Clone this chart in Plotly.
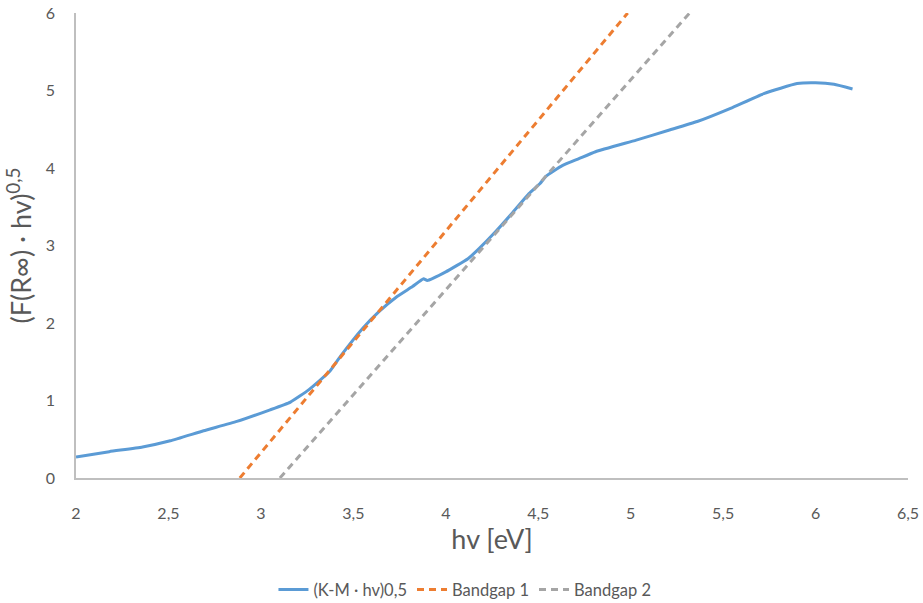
import plotly.graph_objects as go

# Blue curve: (K-M · hv)^0.5
km_x = [2.00, 2.18, 2.36, 2.51, 2.69, 2.87, 3.05, 3.16, 3.26, 3.37, 3.43, 3.55, 3.64, 3.73,
        3.82, 3.88, 3.90, 4.00, 4.12, 4.18, 4.27, 4.36, 4.45, 4.51, 4.54, 4.63, 4.72, 4.81,
        5.03, 5.21, 5.36, 5.54, 5.72, 5.90, 6.00, 6.10, 6.20]
km_y = [0.27, 0.34, 0.40, 0.48, 0.61, 0.73, 0.88, 0.98, 1.14, 1.37, 1.57, 1.93, 2.15, 2.33,
        2.47, 2.57, 2.55, 2.66, 2.83, 2.96, 3.18, 3.42, 3.67, 3.80, 3.89, 4.03, 4.12, 4.21,
        4.36, 4.49, 4.60, 4.77, 4.96, 5.09, 5.10, 5.08, 5.02]

# Tangent lines
bg1_x = [2.886, 4.984]
bg1_y = [0, 6]
bg2_x = [3.103, 5.319]
bg2_y = [0, 6]

x_ticks = [2, 2.5, 3, 3.5, 4, 4.5, 5, 5.5, 6, 6.5]
y_ticks = [0, 1, 2, 3, 4, 5, 6]

FONT = "Lato"
GREY = "#595959"

fig = go.Figure()
fig.add_trace(go.Scatter(x=km_x, y=km_y, mode="lines", name="(K-M · hv)0,5",
                         line=dict(color="#5B9BD5", width=3, shape="spline", smoothing=0.4)))
fig.add_trace(go.Scatter(x=bg1_x, y=bg1_y, mode="lines", name="Bandgap 1",
                         line=dict(color="#ED7D31", width=3, dash="7px,5px")))
fig.add_trace(go.Scatter(x=bg2_x, y=bg2_y, mode="lines", name="Bandgap 2",
                         line=dict(color="#A5A5A5", width=3, dash="7px,5px")))

fig.update_layout(
    width=923, height=603,
    margin=dict(l=76, r=15, t=13, b=125, autoexpand=False),
    plot_bgcolor="white", paper_bgcolor="white",
    separators=",.",
    font=dict(family=FONT, color=GREY, size=16),
    showlegend=True,
    legend=dict(orientation="h", x=0.4675, xanchor="center",
                yref="container", y=0.022, yanchor="middle",
                font=dict(size=16.5, color=GREY), itemwidth=30, tracegroupgap=0),
    xaxis=dict(range=[2, 6.5], tickvals=x_ticks, showgrid=False, zeroline=False,
               automargin=False,
               showline=True, linecolor="#BFBFBF", linewidth=1.5, ticks="",
               ticklabelstandoff=20, tickfont=dict(size=16, color=GREY),
               title=dict(text="hv [eV]", font=dict(size=27, color=GREY), standoff=9)),
    yaxis=dict(range=[0, 6], tickvals=y_ticks, showgrid=False, zeroline=False,
               automargin=False,
               showline=True, linecolor="#BFBFBF", linewidth=1.5, ticks="",
               ticklabelstandoff=16, tickfont=dict(size=16, color=GREY),
               title=dict(text="(F(R∞) · hv)<sup>0,5</sup>", font=dict(size=27, color=GREY), standoff=6)),
)

fig.write_html("out.html")
